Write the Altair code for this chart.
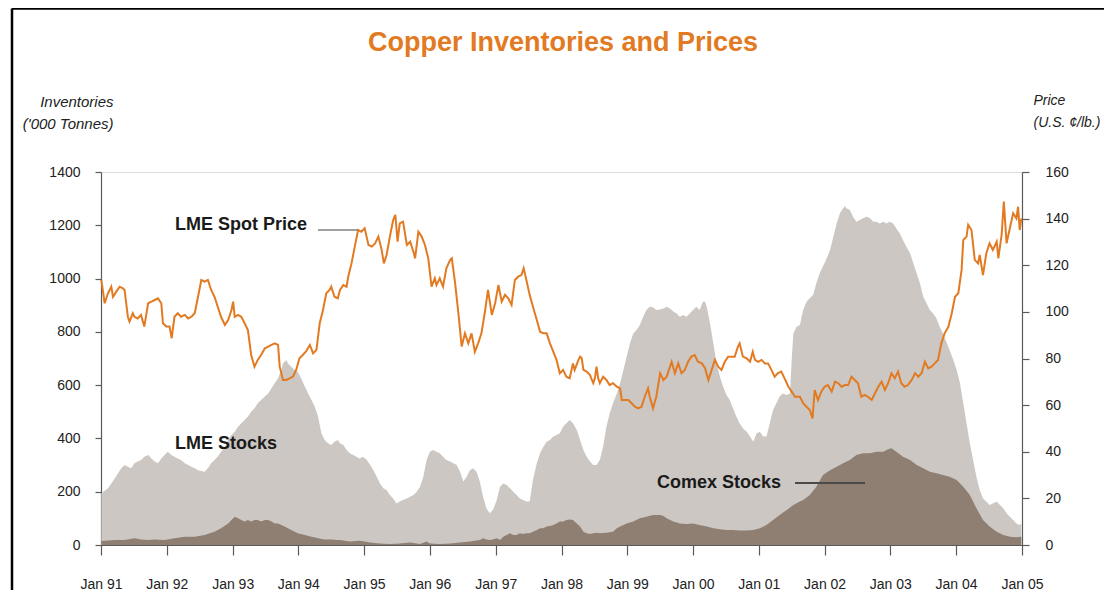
import altair as alt
import pandas as pd

# ---------------- data ----------------
# months elapsed since Jan 1991
price_m = [0.06, 0.67, 1.28, 1.88, 2.19, 2.8, 3.4, 4.0, 4.3, 4.9, 5.2, 5.8, 6.1, 6.7, 7.3, 7.9, 8.6, 9.2, 9.8, 10.4,
           11.0, 11.3, 11.9, 12.5, 12.9, 13.4, 14.0, 14.6, 15.3, 15.9, 16.5, 17.1, 17.7, 18.3, 18.9, 19.5, 20.1, 20.7,
           21.3, 21.9, 22.6, 23.2, 23.8, 24.1, 24.4, 25.0, 25.6, 26.2, 26.8, 27.4, 28.0, 28.6, 29.2, 29.9, 30.5, 31.1,
           31.7, 32.3, 32.6, 33.2, 33.8, 34.4, 35.0, 35.6, 36.2, 36.8, 37.4, 38.1, 38.7, 39.3, 39.9, 40.5, 41.1, 41.7,
           42.0, 42.6, 43.2, 43.6, 44.2, 44.8, 45.1, 45.7, 46.3, 46.9, 47.5, 48.1, 48.8, 49.4, 50.0, 50.6, 51.2, 51.6,
           52.1, 52.7, 53.3, 53.7, 54.1, 54.5, 55.1, 55.8, 56.4, 57.0, 57.3, 57.9, 58.5, 59.1, 59.7, 60.3, 60.9, 61.2,
           61.8, 62.4, 63.0, 63.7, 64.0, 64.6, 65.2, 65.8, 66.4, 67.0, 67.6, 68.2, 68.8, 69.4, 70.0, 70.6, 71.3, 71.9,
           72.5, 73.1, 73.7, 74.3, 74.9, 75.5, 76.1, 76.7, 77.1, 77.6, 78.2, 78.8, 79.5, 80.1, 80.7, 81.3, 81.9, 82.5,
           83.1, 83.7, 84.3, 84.9, 85.5, 86.1, 86.4, 87.1, 87.4, 87.7, 88.0, 88.6, 89.2, 89.8, 90.1, 90.4, 90.7, 91.0,
           91.6, 92.2, 92.8, 93.4, 94.1, 94.7, 95.0, 95.6, 96.2, 96.8, 97.4, 98.0, 98.6, 99.2, 99.8, 100.1, 100.7,
           101.3, 102.0, 102.6, 103.2, 103.8, 104.1, 104.7, 105.3, 105.9, 106.5, 107.1, 107.7, 108.3, 108.9, 109.6,
           110.2, 110.8, 111.4, 112.0, 112.6, 113.2, 113.8, 114.4, 115.0, 115.6, 116.2, 116.5, 117.1, 117.8, 118.4,
           118.9, 119.3, 119.9, 120.5, 121.1, 121.7, 122.3, 122.9, 123.5, 124.1, 124.7, 125.4, 126.0, 126.6, 127.2,
           127.5, 128.1, 128.7, 129.3, 129.8, 130.2, 130.8, 131.4, 132.0, 132.6, 133.3, 133.9, 134.5, 135.1, 135.7,
           136.3, 136.9, 137.5, 138.1, 138.7, 139.3, 139.9, 140.6, 141.2, 141.8, 142.4, 143.0, 143.6, 144.2, 144.8,
           145.4, 146.0, 146.6, 147.2, 147.9, 148.5, 149.1, 149.7, 150.3, 150.9, 151.5, 152.1, 152.7, 153.3, 153.9,
           154.6, 155.2, 155.8, 156.4, 157.0, 157.3, 157.9, 158.2, 158.8, 159.4, 160.0, 160.3, 160.9, 161.5, 162.1,
           162.7, 163.4, 163.7, 164.3, 164.7, 165.2, 165.8, 166.4, 167.0, 167.3, 167.6, 167.9]
price_v = [113.7, 103.7, 108, 110.8, 106.5, 108.7, 110.8, 110.1, 109.4, 97.9, 95.8, 99.4, 97.9, 97.2, 98.7, 93.7, 103.7,
           104.4, 105.1, 105.8, 103.7, 95.1, 93.7, 93.7, 88.7, 97.9, 99.4, 97.9, 98.7, 97.2, 97.9, 99.4, 106.5, 113.7,
           113, 113.7, 109.4, 106.5, 102.2, 97.9, 94.4, 96.5, 100.8, 104.4, 97.9, 98.7, 97.9, 95.1, 92.2, 81.5, 76.5,
           79.4, 81.5, 84.4, 85.1, 85.8, 86.5, 85.8, 76.5, 70.8, 70.8, 71.5, 72.2, 75.1, 80.1, 81.5, 83, 85.8, 82.2,
           83.7, 95.1, 100.8, 108, 109.4, 110.8, 106.5, 105.8, 109.4, 111.5, 110.8, 115.1, 120.8, 128, 135.1, 134.4,
           135.9, 128.7, 128, 129.4, 132.3, 126.6, 120.8, 124.4, 132.3, 139.4, 141.6, 130.1, 138, 138.7, 128.7, 130.1,
           125.8, 123, 134.4, 132.3, 128.7, 123, 110.8, 114.4, 111.5, 114.4, 110.8, 118.7, 122.3, 123, 112.3, 99.4,
           85.1, 90.8, 86.5, 90.8, 82.9, 86.5, 90.8, 99.4, 109.4, 98.7, 103.7, 111.5, 104.4, 107.3, 105.8, 103, 113.7,
           115.1, 115.8, 118.7, 113.7, 107.3, 102.2, 96.5, 91.5, 90.8, 90.8, 86.5, 82.9, 79.4, 73.7, 75.1, 72.2, 71.5,
           77.9, 75.1, 79.4, 80.8, 80.1, 75.1, 74.4, 72.9, 69.4, 71.5, 76.5, 71.5, 69.4, 72.2, 70.8, 68.6, 69.4, 67.9,
           67.2, 62.2, 62.2, 62.2, 60.8, 59.3, 58.6, 59.3, 63.6, 67.2, 63.6, 58.6, 63.6, 73.7, 70.8, 72.2, 76.5, 78.6,
           73.7, 77.9, 73.7, 75.1, 78.6, 80.8, 81.5, 78.6, 77.9, 75.8, 70.8, 75.1, 79.4, 76.5, 75.1, 78.6, 80.8, 80.8,
           80.8, 85.1, 86.5, 80.8, 80.1, 78.6, 82.9, 79.4, 78.6, 79.4, 77.9, 77.9, 75.1, 72.2, 73.7, 74.4, 71.5, 67.9,
           65.8, 63.6, 63.6, 63.6, 60.8, 59.3, 57.9, 54.3, 66.5, 62.2, 65.8, 67.9, 68.6, 65.8, 70.1, 69.4, 67.9, 68.6,
           68.6, 72.2, 70.8, 69.4, 63.6, 64.4, 63.6, 62.2, 65.1, 67.9, 70.1, 66.5, 69.4, 73.7, 71.5, 74.4, 69.4, 67.9,
           68.6, 70.8, 73.7, 72.2, 73.7, 78.6, 75.8, 76.5, 77.9, 79.4, 86.5, 90.8, 93.7, 99.4, 106.5, 108, 118, 130.8,
           132.3, 137.3, 135.1, 122.3, 120.8, 124.4, 115.8, 125.1, 129.4, 126.6, 130.1, 123, 133, 147.3, 129.4, 135.9,
           142.3, 140.1, 145.1, 135.1, 140.1]

lme_m = [0.06, 1.28, 2.5, 3.7, 4.3, 4.9, 5.5, 6.1, 6.7, 7.3, 7.9, 8.6, 9.2, 9.8, 10.4, 11.0, 11.6, 12.2, 12.8, 13.4,
         14.0, 14.6, 15.3, 15.9, 16.5, 17.1, 17.7, 18.3, 18.9, 19.5, 20.1, 20.7, 21.3, 21.9, 22.6, 23.2, 23.8, 24.4,
         25.0, 25.6, 26.2, 26.8, 27.4, 28.0, 28.6, 29.2, 29.9, 30.5, 31.1, 31.7, 32.3, 32.9, 33.2, 33.5, 33.8, 34.1,
         34.7, 35.3, 35.9, 36.5, 37.2, 37.8, 38.4, 39.0, 39.6, 40.2, 40.8, 41.4, 42.0, 42.6, 43.2, 43.6, 44.2, 44.8,
         45.4, 46.0, 46.6, 47.2, 47.8, 48.5, 49.1, 49.7, 50.3, 50.9, 51.5, 52.1, 52.7, 53.3, 53.9, 54.5, 55.1, 55.8,
         56.4, 57.0, 57.6, 58.2, 58.8, 59.4, 60.0, 60.6, 61.2, 61.8, 62.4, 63.0, 63.7, 64.3, 64.9, 65.5, 66.1, 66.7,
         67.3, 67.9, 68.5, 69.1, 69.7, 70.3, 70.9, 71.5, 72.2, 72.8, 73.4, 74.0, 74.6, 75.2, 75.8, 76.4, 77.0, 77.6,
         78.2, 78.8, 79.5, 80.1, 80.7, 81.3, 81.9, 82.5, 83.1, 83.7, 84.3, 84.9, 85.5, 86.1, 86.8, 87.4, 88.0, 88.6,
         89.2, 89.8, 90.4, 91.0, 91.6, 92.2, 92.8, 93.4, 94.1, 94.7, 95.3, 95.9, 96.5, 97.1, 97.7, 98.3, 98.9, 99.5,
         100.1, 100.7, 101.3, 102.0, 102.6, 103.2, 103.8, 104.4, 105.0, 105.6, 106.2, 106.8, 107.4, 108.0, 108.6,
         109.2, 109.8, 110.2, 110.5, 111.1, 111.7, 112.3, 112.9, 113.5, 114.1, 114.7, 115.3, 115.9, 116.5, 117.1,
         117.8, 118.4, 119.0, 119.6, 120.2, 120.8, 121.4, 122.0, 122.6, 123.2, 123.8, 124.4, 125.1, 125.7, 126.0,
         126.3, 126.9, 127.5, 128.1, 128.7, 129.3, 129.9, 130.5, 131.1, 131.7, 132.4, 133.0, 133.6, 134.2, 134.8,
         135.4, 135.7, 136.0, 136.6, 137.2, 137.8, 138.4, 139.0, 139.7, 140.3, 140.9, 141.5, 142.1, 142.7, 143.3,
         143.9, 144.5, 145.1, 145.7, 146.3, 146.9, 147.6, 148.2, 148.8, 149.4, 150.0, 150.6, 151.2, 151.8, 152.4,
         153.0, 153.6, 154.2, 154.8, 155.5, 156.1, 156.7, 157.3, 157.9, 158.5, 159.1, 159.7, 160.3, 160.9, 161.5,
         162.1, 162.7, 163.4, 164.0, 164.6, 165.2, 165.8, 166.4, 167.0, 167.6, 167.9]
lme_v = [194, 213, 250, 288, 300, 294, 288, 307, 313, 319, 331, 338, 325, 313, 307, 325, 338, 350, 338, 331, 325, 319,
         307, 300, 294, 288, 281, 278, 275, 288, 307, 319, 331, 350, 369, 394, 413, 425, 444, 457, 469, 482, 500, 513,
         532, 544, 557, 569, 588, 607, 626, 657, 682, 688, 694, 682, 669, 657, 650, 626, 594, 569, 544, 519, 482, 419,
         394, 382, 375, 388, 394, 382, 375, 357, 344, 338, 331, 325, 331, 319, 300, 281, 256, 231, 213, 206, 188, 175,
         156, 163, 169, 175, 181, 188, 200, 219, 256, 319, 350, 357, 350, 344, 331, 319, 313, 307, 300, 275, 238, 256,
         281, 288, 275, 238, 181, 138, 119, 131, 169, 219, 231, 225, 213, 200, 188, 175, 169, 163, 163, 244, 307, 344,
         369, 388, 394, 407, 413, 419, 444, 457, 469, 457, 432, 394, 357, 331, 313, 300, 300, 319, 369, 444, 494, 532,
         569, 607, 657, 707, 757, 794, 807, 826, 857, 882, 894, 892, 882, 884, 888, 894, 888, 876, 869, 857, 863, 857,
         869, 882, 894, 882, 913, 913, 894, 832, 757, 682, 632, 594, 563, 544, 513, 482, 457, 438, 425, 407, 388, 419,
         425, 407, 407, 457, 507, 532, 557, 569, 563, 569, 694, 794, 819, 826, 882, 913, 926, 938, 982, 1020, 1045,
         1076, 1107, 1157, 1207, 1245, 1264, 1272, 1264, 1257, 1232, 1213, 1220, 1226, 1232, 1226, 1213, 1213, 1207,
         1213, 1207, 1213, 1207, 1188, 1170, 1145, 1120, 1095, 1057, 1020, 982, 932, 907, 882, 869, 851, 819, 794,
         763, 732, 694, 657, 607, 532, 457, 382, 319, 256, 206, 175, 163, 150, 156, 163, 150, 138, 119, 106, 94, 81,
         75, 81]

comex_m = [0.06, 2.5, 4.3, 6.1, 7.3, 8.6, 9.8, 11.6, 13.4, 15.3, 17.1, 18.9, 20.7, 21.9, 23.2, 23.8, 24.4, 25.0, 25.6,
           26.2, 26.8, 27.4, 28.0, 28.6, 29.2, 29.9, 30.5, 31.1, 31.7, 32.3, 32.9, 33.5, 34.7, 35.9, 37.2, 38.4, 39.6,
           40.8, 42.0, 43.2, 43.6, 45.4, 47.2, 49.1, 50.9, 52.7, 54.5, 56.4, 58.2, 59.4, 60.0, 61.8, 63.7, 65.5, 67.3,
           69.1, 69.7, 70.3, 70.9, 71.5, 72.2, 72.8, 73.4, 74.0, 74.6, 75.2, 75.8, 76.4, 77.0, 77.6, 78.2, 78.8, 79.5,
           80.1, 80.7, 81.3, 81.9, 82.5, 83.1, 83.7, 84.3, 84.9, 85.5, 86.1, 86.8, 87.4, 88.0, 88.6, 89.2, 89.8, 90.4,
           91.0, 92.2, 93.4, 94.1, 94.7, 95.9, 97.1, 98.3, 99.5, 100.7, 102.0, 102.6, 103.2, 104.4, 105.6, 106.8,
           108.0, 109.2, 110.5, 111.7, 112.9, 114.1, 115.3, 116.5, 117.8, 119.0, 120.2, 121.4, 122.6, 123.8, 125.1,
           126.3, 127.5, 128.1, 129.3, 130.5, 131.7, 133.0, 134.2, 135.4, 136.6, 137.8, 139.0, 140.3, 141.5, 142.7,
           143.6, 144.2, 145.1, 146.3, 147.6, 148.8, 150.0, 151.2, 152.4, 153.6, 154.8, 156.1, 157.3, 158.5, 159.7,
           160.9, 162.1, 163.4, 164.6, 165.8, 167.0, 167.9]
comex_v = [15, 19, 19, 25, 21, 19, 21, 19, 25, 31, 31, 38, 50, 63, 81, 94, 106, 100, 94, 88, 94, 88, 94, 94, 88, 94,
           94, 88, 81, 81, 75, 69, 56, 44, 38, 31, 25, 21, 21, 19, 19, 13, 16, 9, 6, 4, 6, 9, 4, 13, 6, 4, 6, 9, 13,
           19, 25, 21, 19, 21, 25, 19, 31, 38, 44, 38, 38, 44, 41, 44, 44, 50, 56, 63, 63, 69, 71, 75, 81, 88, 88, 94,
           96, 94, 81, 69, 50, 44, 41, 44, 46, 44, 46, 50, 63, 69, 81, 88, 100, 106, 113, 113, 109, 100, 88, 81, 79,
           81, 75, 69, 63, 59, 56, 56, 54, 54, 56, 63, 75, 94, 113, 131, 150, 163, 169, 188, 219, 263, 281, 294, 307,
           319, 338, 344, 344, 350, 350, 359, 363, 350, 331, 319, 300, 288, 275, 269, 263, 256, 244, 219, 188, 138,
           94, 69, 50, 38, 31, 29, 31]

years = list(range(1991, 2006))
inv_ticks = [0, 200, 400, 600, 800, 1000, 1200, 1400]
price_ticks = [0, 20, 40, 60, 80, 100, 120, 140, 160]
title_text = "Copper Inventories and Prices"


def to_dates(months):
    base = pd.Timestamp("1991-01-01")
    return [(base + pd.Timedelta(days=m * 365.25 / 12)).strftime("%Y-%m-%dT%H:%M:%SZ") for m in months]


price_df = pd.DataFrame({"date": to_dates(price_m), "price": price_v})
lme_df = pd.DataFrame({"date": to_dates(lme_m), "stocks": lme_v})
comex_df = pd.DataFrame({"date": to_dates(comex_m), "stocks": comex_v})

# ---------------- styling ----------------
SANS = "Liberation Sans, Arial, Helvetica, sans-serif"
ORANGE = "#e27a22"
LIGHT = "#ccc7c3"
DARK = "#8e7f72"
AXIS = "#5a5a5a"
TXT = "#222222"


def dt(y):
    return alt.DateTime(year=y, month=1, date=1, utc=True)


x_enc = alt.X(
    "date:T",
    scale=alt.Scale(type="utc", domain=[dt(1991), dt(2005)]),
    axis=alt.Axis(values=[dt(y) for y in years], format="%b %y", title=None, grid=False,
                  labelFont=SANS, labelFontSize=14, labelColor=TXT, labelPadding=22,
                  tickSize=10, tickColor=AXIS, tickWidth=1.2, domainColor=AXIS, domainWidth=1.2,
                  labelFlush=False, labelOverlap=False),
)

inv_axis = alt.Axis(values=inv_ticks, format="d", orient="left", grid=False,
                    title=["Inventories", "('000 Tonnes)"], titleAngle=0, titleAlign="right",
                    titleBaseline="top", titleX=12, titleY=-78, titleFont=SANS, titleFontSize=15,
                    titleFontStyle="italic", titleFontWeight="normal", titleLineHeight=22, titleColor=TXT,
                    labelFont=SANS, labelFontSize=14, labelColor=TXT, labelPadding=15,
                    tickSize=6, tickColor=AXIS, tickWidth=1.2, domainColor=AXIS, domainWidth=1.2)
inv_scale = alt.Scale(domain=[0, 1400], nice=False)

lme_area = alt.Chart(lme_df).mark_area(color=LIGHT, opacity=1).encode(
    x=x_enc, y=alt.Y("stocks:Q", scale=inv_scale, axis=inv_axis))
comex_area = alt.Chart(comex_df).mark_area(color=DARK, opacity=1).encode(
    x=x_enc, y=alt.Y("stocks:Q", scale=inv_scale, axis=inv_axis))
inventory = alt.layer(lme_area, comex_area)

price_line = alt.Chart(price_df).mark_line(color=ORANGE, strokeWidth=2).encode(
    x=x_enc,
    y=alt.Y("price:Q", scale=alt.Scale(domain=[0, 160], nice=False),
            axis=alt.Axis(values=price_ticks, format="d", orient="right", grid=False,
                          title=["Price", "(U.S. ¢/lb.)"], titleAngle=0, titleAlign="left",
                          titleBaseline="top", titleX=11, titleY=-79, titleFont=SANS, titleFontSize=14,
                          titleFontStyle="italic", titleFontWeight="normal", titleLineHeight=22,
                          titleColor=TXT, labelFont=SANS, labelFontSize=14, labelColor=TXT,
                          labelPadding=16, tickSize=7, tickColor=AXIS, tickWidth=1.2,
                          domainColor=AXIS, domainWidth=1.2)),
)

one = pd.DataFrame({"k": [0]})


def label(txt, x, y, size=18, color="#1a1a1a", align="left"):
    return alt.Chart(one).mark_text(text=txt, font=SANS, fontSize=size, fontWeight="bold", color=color,
                                     align=align, baseline="middle").encode(x=alt.value(x), y=alt.value(y))


def leader(x1, x2, y, color, w):
    return alt.Chart(one).mark_rule(color=color, strokeWidth=w).encode(
        x=alt.value(x1), x2=alt.value(x2), y=alt.value(y))


annotations = [
    label(title_text, 462, -129, size=27, color=ORANGE, align="center"),
    label("LME Spot Price", 74, 53),
    leader(217, 257, 58, "#808080", 1.5),
    label("LME Stocks", 74, 272),
    label("Comex Stocks", 556, 311),
    leader(694, 764, 311, "#4a4a4a", 2),
    # frame of the figure
    alt.Chart(one).mark_rule(color="black", strokeWidth=2.5).encode(
        x=alt.value(-89), y=alt.value(-163.5), y2=alt.value(440)),
    alt.Chart(one).mark_rule(color="black", strokeWidth=2.5).encode(
        x=alt.value(-89), x2=alt.value(1020), y=alt.value(-163.5)),
]

chart = alt.layer(inventory, price_line, *annotations).resolve_scale(y="independent").properties(
    width=921,
    height=373,
    autosize=alt.AutoSizeParams(type="none"),
    padding={"left": 93, "top": 164, "right": 82, "bottom": 45},
).configure_view(stroke=None).configure(background="white")

chart.save("out.html", embed_options={"renderer": "svg", "actions": False})
